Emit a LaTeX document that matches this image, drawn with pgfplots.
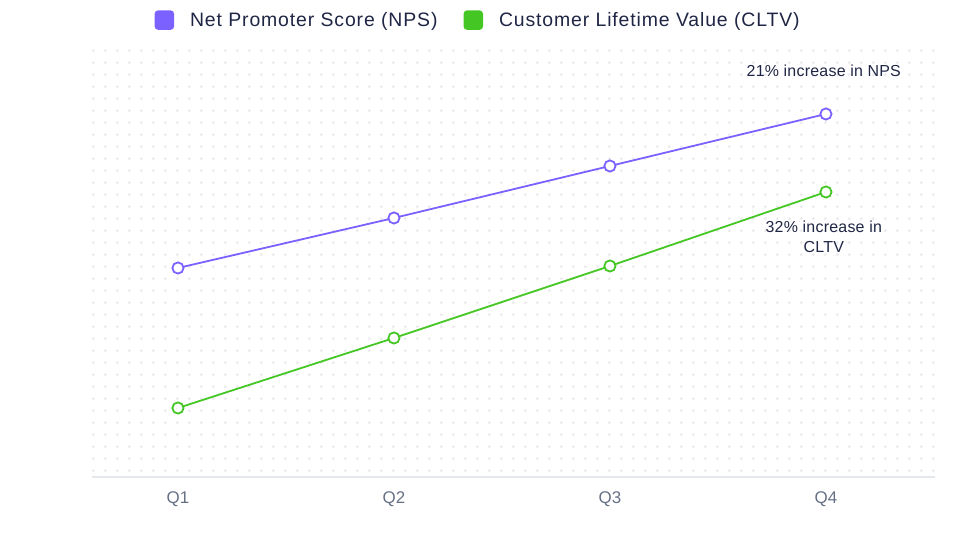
\documentclass[border=0pt]{standalone}
\usepackage{pgfplots}
\pgfplotsset{compat=1.18}
\usepackage{fontspec}
\setmainfont{Liberation Sans}
\newfontfamily\legfont[LetterSpace=4.5]{Liberation Sans}
\newfontfamily\annfont[LetterSpace=1.5]{Liberation Sans}
\definecolor{npsc}{HTML}{7B61FF}
\definecolor{cltvc}{HTML}{44C724}
\definecolor{dotc}{HTML}{ECECEF}
\definecolor{txtc}{HTML}{1F2544}
\definecolor{tickc}{HTML}{667085}
\definecolor{axc}{HTML}{E4E7EC}
\begin{document}
\begin{tikzpicture}[x=1bp,y=1bp]
\path[use as bounding box] (0,0) rectangle (956,557);
\foreach \i in {0,...,70}{
  \foreach \j in {0,...,35}{
    \fill[dotc] ({93.3+12*\i},{506.3-12*\j}) circle (1.7);
  }
}
\begin{axis}[
  at={(92bp,80bp)}, anchor=south west,
  scale only axis, width=843bp, height=429bp,
  xmin=-0.398, xmax=3.505, ymin=0, ymax=429,
  hide y axis,
  axis x line*=bottom,
  x axis line style={draw=axc, line width=1.5bp, -},
  xtick={0,1,2,3}, xticklabels={Q1,Q2,Q3,Q4},
  major tick length=0pt,
  xticklabel style={text=tickc, font=\fontsize{17}{19}\selectfont, yshift=-11bp},
  clip=false,
  legend columns=2,
  legend style={at={(axis description cs:0.458,1.065)}, anchor=center, draw=none, fill=none,
    font=\legfont\fontsize{19.5}{22}\selectfont, text=txtc,
    /tikz/every even column/.append style={column sep=24bp},
    inner sep=0pt, nodes={inner sep=2bp}},
  legend image code/.code={\fill[#1, draw=none, rounded corners=3.5bp] (0bp,-9.75bp) rectangle (19.5bp,9.75bp);},
]
\addlegendimage{fill=npsc}
\addlegendentry{\hspace{14bp}Net Promoter Score (NPS)}
\addlegendimage{fill=cltvc}
\addlegendentry{\hspace{14bp}Customer Lifetime Value (CLTV)}
\addplot[npsc, line width=1.8bp, mark=*, mark size=5.6bp, mark options={fill=white, line width=1.8bp}, forget plot]
  coordinates {(0,209) (1,259) (2,311) (3,363)};
\addplot[cltvc, line width=1.8bp, mark=*, mark size=5.6bp, mark options={fill=white, line width=1.8bp}, forget plot]
  coordinates {(0,69) (1,139) (2,211) (3,285)};
\node[text=txtc, font=\annfont\fontsize{16}{20}\selectfont] at (axis cs:2.99,406) {21\% increase in NPS};
\node[text=txtc, font=\annfont\fontsize{16}{20}\selectfont, align=center] at (axis cs:2.99,240) {32\% increase in\\CLTV};
\end{axis}
\end{tikzpicture}
\end{document}
